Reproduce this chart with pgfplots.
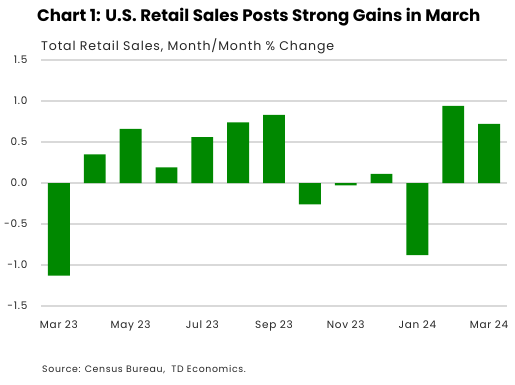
\documentclass[border=0pt]{standalone}
\usepackage{fontspec}
\setmainfont{Poppins}
\newfontfamily\spacedfont[LetterSpace=7]{Poppins}
\usepackage{pgfplots}
\pgfplotsset{compat=1.18}
\definecolor{tdgreen}{RGB}{0,136,0}
\definecolor{gridgray}{RGB}{217,217,217}
\begin{document}
\begin{tikzpicture}[x=1bp,y=1bp]
\path[use as bounding box] (0,0) rectangle (515,384);
\begin{axis}[
  at={(41bp,78bp)}, anchor=south west,
  scale only axis, width=466bp, height=246bp,
  xmin=-0.5, xmax=12.5, ymin=-1.5, ymax=1.5,
  ytick={-1.5,-1,-0.5,0,0.5,1,1.5},
  xtick={0,2,4,6,8,10,12},
  xticklabels={Mar 23,May 23,Jul 23,Sep 23,Nov 23,Jan 24,Mar 24},
  yticklabel style={/pgf/number format/.cd,fixed,fixed zerofill,precision=1,assume math mode=true},
  ticklabel style={font=\spacedfont\fontsize{10.5}{12}\selectfont, text=black!85},
  major tick length=0pt,
  axis line style={draw=none},
  ymajorgrids, grid style={gridgray, line width=1.2pt},
  yticklabel shift=10bp, xticklabel shift=11bp,
  clip=false,
]
\addplot[ybar, bar width=0.61, fill=tdgreen, draw=none] coordinates {
(0,-1.13) (1,0.35) (2,0.66) (3,0.19) (4,0.56) (5,0.74) (6,0.83)
(7,-0.26) (8,-0.03) (9,0.11) (10,-0.88) (11,0.94) (12,0.72)};
\end{axis}
\node[anchor=west, inner sep=0pt, font=\fontsize{16.7}{19}\selectfont\bfseries] at (37,367) {Chart 1: U.S. Retail Sales Posts Strong Gains in March};
\node[anchor=west, inner sep=0pt, font=\spacedfont\fontsize{12.6}{14}\selectfont, text=black!85] at (41,338) {Total Retail Sales, Month/Month \% Change};
\node[anchor=west, inner sep=0pt, font=\spacedfont\fontsize{9.4}{11}\selectfont, text=black!85] at (42,14) {Source: Census Bureau,~ TD Economics.};
\end{tikzpicture}
\end{document}
